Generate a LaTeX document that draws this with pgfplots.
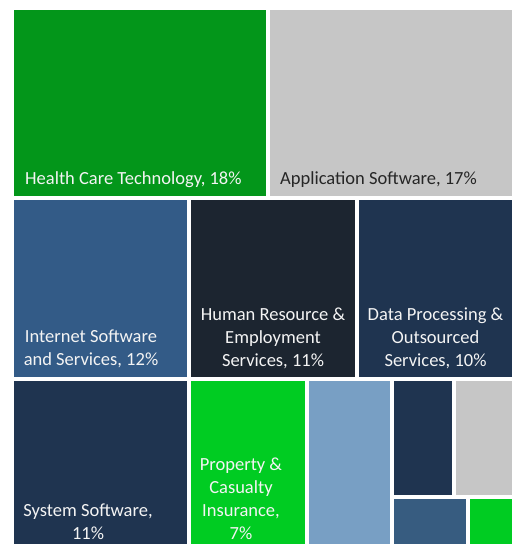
\documentclass[border=0pt]{standalone}
\usepackage{pgfplots}
\pgfplotsset{compat=1.18}
\usepackage{fontspec}
\setmainfont{Carlito}
\definecolor{cHC}{HTML}{03961A}
\definecolor{cGray}{HTML}{C6C6C6}
\definecolor{cInt}{HTML}{335B87}
\definecolor{cHR}{HTML}{1C2530}
\definecolor{cNavy}{HTML}{1F3450}
\definecolor{cGreen}{HTML}{00CC22}
\definecolor{cLB}{HTML}{789FC4}
\definecolor{cSB}{HTML}{375C80}
\definecolor{cTxt}{HTML}{262626}
\definecolor{cWT}{HTML}{F4F4F4}
\tikzset{lbl/.style={font=\fontsize{18.5}{22}\selectfont, inner sep=0pt, text=cWT, anchor=base}}
\begin{document}
\begin{tikzpicture}
\begin{axis}[
  scale only axis, width=516pt, height=544pt,
  xmin=0, xmax=516, ymin=0, ymax=544, y dir=reverse,
  axis lines=none, ticks=none, clip=true,
]
% background
\addplot[draw=none, fill=white] coordinates {(0,0) (516,0) (516,544) (0,544)} -- cycle;
% rectangles (pixel coordinates, y from top)
\addplot[draw=none, fill=cHC]   coordinates {(14,10) (266,10) (266,196) (14,196)} -- cycle;
\addplot[draw=none, fill=cGray] coordinates {(270,10) (511.5,10) (511.5,196) (270,196)} -- cycle;
\addplot[draw=none, fill=cInt]  coordinates {(14,200) (187,200) (187,377) (14,377)} -- cycle;
\addplot[draw=none, fill=cHR]   coordinates {(191,200) (355,200) (355,377) (191,377)} -- cycle;
\addplot[draw=none, fill=cNavy] coordinates {(359,200) (511.5,200) (511.5,377) (359,377)} -- cycle;
\addplot[draw=none, fill=cNavy] coordinates {(14,381) (187,381) (187,550) (14,550)} -- cycle;
\addplot[draw=none, fill=cGreen] coordinates {(191,381) (305,381) (305,550) (191,550)} -- cycle;
\addplot[draw=none, fill=cLB]   coordinates {(309,381) (389.5,381) (389.5,550) (309,550)} -- cycle;
\addplot[draw=none, fill=cNavy] coordinates {(394,381) (452,381) (452,495) (394,495)} -- cycle;
\addplot[draw=none, fill=cGray] coordinates {(456,381) (511.5,381) (511.5,495) (456,495)} -- cycle;
\addplot[draw=none, fill=cSB]   coordinates {(394,499) (466,499) (466,550) (394,550)} -- cycle;
\addplot[draw=none, fill=cGreen] coordinates {(470,499) (511.5,499) (511.5,550) (470,550)} -- cycle;
% labels
\node[lbl, anchor=base west] at (axis cs:25,184) {Health Care Technology, 18\%};
\node[lbl, anchor=base west, text=cTxt] at (axis cs:280,184) {Application Software, 17\%};
\node[lbl] at (axis cs:91,342) {Internet Software};
\node[lbl] at (axis cs:91,365) {and Services, 12\%};
\node[lbl] at (axis cs:273,320) {Human Resource \&};
\node[lbl] at (axis cs:273,343) {Employment};
\node[lbl] at (axis cs:273,366) {Services, 11\%};
\node[lbl] at (axis cs:435.5,320) {Data Processing \&};
\node[lbl] at (axis cs:435.5,343) {Outsourced};
\node[lbl] at (axis cs:435.5,366) {Services, 10\%};
\node[lbl] at (axis cs:88,516) {System Software,};
\node[lbl] at (axis cs:88,539) {11\%};
\node[lbl] at (axis cs:241,470) {Property \&};
\node[lbl] at (axis cs:241,493) {Casualty};
\node[lbl] at (axis cs:241,516) {Insurance,};
\node[lbl] at (axis cs:241,539) {7\%};
\end{axis}
\end{tikzpicture}
\end{document}
